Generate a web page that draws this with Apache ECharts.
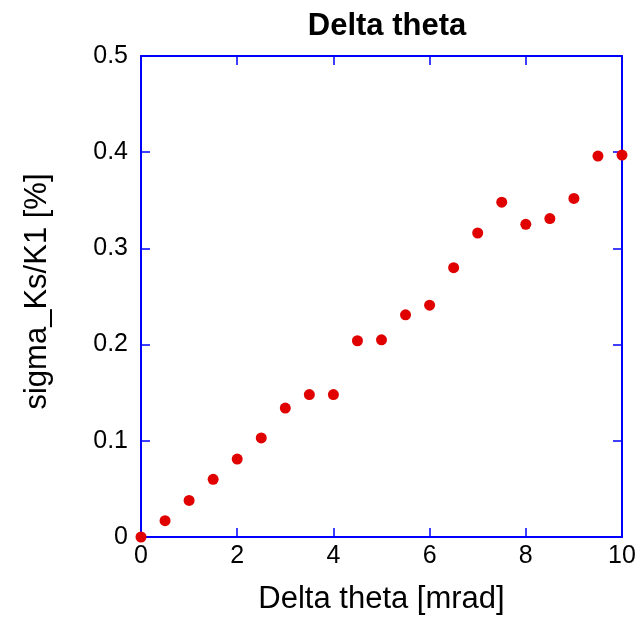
<!DOCTYPE html>
<html>
<head>
<meta charset="utf-8">
<script src="https://cdn.jsdelivr.net/npm/echarts@6/dist/echarts.min.js"></script>
<style>html,body{margin:0;padding:0;background:#fff}#c{width:640px;height:622px}</style>
</head>
<body>
<div id="c"></div>
<script>
const titleText = "Delta theta";
const xName = "Delta theta [mrad]";
const yName = "sigma_Ks/K1 [%]";
const xValues = [0, 0.5, 1, 1.5, 2, 2.5, 3, 3.5, 4, 4.5, 5, 5.5, 6, 6.5, 7, 7.5, 8, 8.5, 9, 9.5, 10];
const yValues = [0, 0.017, 0.038, 0.060, 0.081, 0.103, 0.134, 0.148, 0.148, 0.204, 0.205, 0.231, 0.241, 0.280, 0.316, 0.348, 0.325, 0.331, 0.352, 0.396, 0.397];
const xTicks = [0, 2, 4, 6, 8, 10];
const yTicks = [0, 0.1, 0.2, 0.3, 0.4, 0.5];

const blue = '#0000ff';
const font = 'Liberation Sans, Arial, sans-serif';
const points = xValues.map((x, i) => [x, yValues[i]]);

const baseX = {
  type: 'value', min: xTicks[0], max: xTicks[xTicks.length - 1], interval: 2,
  axisLine: { show: true, onZero: false, lineStyle: { color: blue, width: 2 } },
  axisTick: { show: true, inside: true, length: 9, lineStyle: { color: blue, width: 1.5 } },
  splitLine: { show: false }
};
const baseY = {
  type: 'value', min: yTicks[0], max: yTicks[yTicks.length - 1], interval: 0.1,
  axisLine: { show: true, onZero: false, lineStyle: { color: blue, width: 2 } },
  axisTick: { show: true, inside: true, length: 9, lineStyle: { color: blue, width: 1.5 } },
  splitLine: { show: false }
};

const chart = echarts.init(document.getElementById('c'), null, { renderer: 'canvas' });
chart.setOption({
  backgroundColor: '#ffffff',
  animation: false,
  title: {
    text: titleText, left: 382, top: 6, textAlign: 'center',
    textStyle: { fontFamily: font, fontWeight: 'bold', fontSize: 31, color: '#000' }
  },
  grid: { left: 141, top: 56, width: 481, height: 481, containLabel: false },
  xAxis: [
    Object.assign({}, baseX, {
      position: 'bottom',
      name: xName, nameLocation: 'middle', nameGap: 47,
      nameTextStyle: { fontFamily: font, fontSize: 31, color: '#000' },
      axisLabel: { fontFamily: font, fontSize: 25, color: '#000', margin: 7,
        formatter: v => String(v) }
    }),
    Object.assign({}, baseX, { position: 'top', axisLabel: { show: false } })
  ],
  yAxis: [
    Object.assign({}, baseY, {
      position: 'left',
      name: yName, nameLocation: 'middle', nameGap: 88,
      nameTextStyle: { fontFamily: font, fontSize: 31, color: '#000', padding: [0, 0, 0, 10] },
      axisLabel: { fontFamily: font, fontSize: 25, color: '#000', margin: 13,
        formatter: v => String(Math.round(v * 10) / 10) }
    }),
    Object.assign({}, baseY, { position: 'right', axisLabel: { show: false } })
  ],
  series: [{
    type: 'scatter', xAxisIndex: 0, yAxisIndex: 0,
    data: points, symbol: 'circle', symbolSize: 11,
    itemStyle: { color: '#e00000', opacity: 1 },
    clip: false
  }]
});
</script>
</body>
</html>
